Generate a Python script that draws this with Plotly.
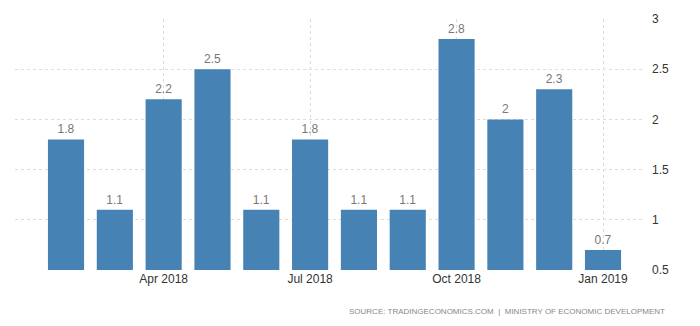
import plotly.graph_objects as go

months = ["Feb 2018", "Mar 2018", "Apr 2018", "May 2018", "Jun 2018", "Jul 2018",
          "Aug 2018", "Sep 2018", "Oct 2018", "Nov 2018", "Dec 2018", "Jan 2019"]
values = [1.8, 1.1, 2.2, 2.5, 1.1, 1.8, 1.1, 1.1, 2.8, 2, 2.3, 0.7]
tick_months = ["Apr 2018", "Jul 2018", "Oct 2018", "Jan 2019"]
y_ticks = [0.5, 1, 1.5, 2, 2.5, 3]
source_text = "SOURCE: TRADINGECONOMICS.COM  |  MINISTRY OF ECONOMIC DEVELOPMENT"

label_font = dict(color="#777777", size=12, family="Liberation Sans, Arial, sans-serif")

fig = go.Figure(go.Bar(
    x=months, y=values,
    marker=dict(color="#4682b4", line=dict(width=0)),
    text=[f"{v:g}" for v in values],
    textposition="outside",
    textfont=label_font,
    outsidetextfont=label_font,
    constraintext="none",
    cliponaxis=False,
))

fig.update_layout(
    width=700, height=326,
    margin=dict(l=15, r=55, t=19, b=56),
    paper_bgcolor="white", plot_bgcolor="white",
    font=dict(family="Liberation Sans, Arial, sans-serif", color="#333333", size=12),
    bargap=0.26,
    showlegend=False,
    xaxis=dict(
        type="category",
        range=[-1.045, 11.86],
        tickmode="array", tickvals=tick_months, ticktext=tick_months,
        showgrid=True, gridcolor="#dcdcdc", griddash="dot", gridwidth=1,
        showline=False, zeroline=False, ticks="",
        tickfont=dict(size=12, color="#333333"),
    ),
    yaxis=dict(
        side="right",
        range=[0.5, 3],
        tickmode="array", tickvals=y_ticks, ticktext=[f"{v:g}" for v in y_ticks],
        showgrid=True, gridcolor="#dcdcdc", griddash="dot", gridwidth=1,
        zeroline=False, showline=False, ticks="",
        ticklabelstandoff=6,
        tickfont=dict(size=12, color="#333333"),
    ),
    annotations=[dict(
        text=source_text, xref="paper", yref="paper",
        x=1.035, y=-0.167, xanchor="right", yanchor="middle",
        showarrow=False, font=dict(size=8, color="#888888"),
    )],
)

fig.write_html("out.html")
